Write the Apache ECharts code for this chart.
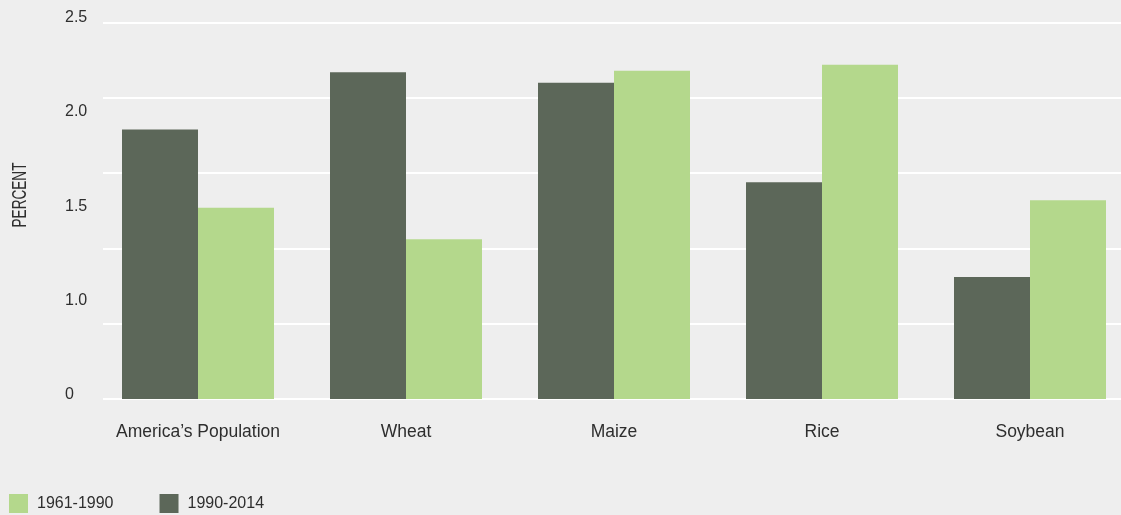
<!DOCTYPE html>
<html><head><meta charset="utf-8">
<script src="https://cdn.jsdelivr.net/npm/echarts@6/dist/echarts.min.js"></script>
<style>html,body{margin:0;padding:0;background:#eeeeee;overflow:hidden;width:1121px;height:515px}#c{width:1134px;height:515px}</style>
</head><body><div id="c"></div>
<script>
const categories = ["America’s Population", "Wheat", "Maize", "Rice", "Soybean"];
const values1990_2014 = [1.79, 2.17, 2.10, 1.44, 0.81];
const values1961_1990 = [1.27, 1.06, 2.18, 2.22, 1.32];
const yTickLabels = ["0", "1.0", "1.5", "2.0", "2.5"];
const seriesNames = ["1961-1990", "1990-2014"];
const yTitle = "PERCENT";

const chart = echarts.init(document.getElementById('c'), null, {renderer: 'canvas'});
const txt = '#2e2e2e';
const font = 'Liberation Sans, Arial, Helvetica, sans-serif';
chart.setOption({
  backgroundColor: '#eeeeee',
  animation: false,
  textStyle: {fontFamily: font},
  grid: [
    {left: 103, right: 13, top: 22.5, bottom: 116},
    {left: 94, right: 0, top: 22.5, bottom: 116},
    {left: 103, right: 13, top: 17.5, bottom: 120}
  ],
  xAxis: [
    {gridIndex: 0, type: 'value', show: false},
    {gridIndex: 1, type: 'category', data: categories,
     axisLine: {show: false}, axisTick: {show: false},
     axisLabel: {interval: 0, hideOverlap: false, margin: 24, fontSize: 17.5, color: txt, fontFamily: font}},
    {gridIndex: 2, type: 'value', show: false}
  ],
  yAxis: [
    {gridIndex: 0, type: 'value', min: 0, max: 2.5, interval: 0.5,
     axisLabel: {show: false}, axisLine: {show: false}, axisTick: {show: false},
     splitLine: {show: true, lineStyle: {color: '#ffffff', width: 2}}},
    {gridIndex: 1, type: 'value', min: 0, max: 2.5, interval: 0.5,
     axisLabel: {show: false}, axisLine: {show: false}, axisTick: {show: false},
     splitLine: {show: false}},
    {gridIndex: 2, type: 'value', min: 0, max: 4, interval: 1,
     axisLine: {show: false}, axisTick: {show: false}, splitLine: {show: false},
     axisLabel: {formatter: v => yTickLabels[v], align: 'left', margin: 38,
                 fontSize: 16, color: txt, fontFamily: font}}
  ],
  legend: {
    data: seriesNames, left: 9, top: 494, padding: 0,
    itemWidth: 19, itemHeight: 19, itemGap: 46,
    icon: 'rect', selectedMode: false,
    textStyle: {fontSize: 16, color: txt, fontFamily: font, padding: [0, 0, 0, 4]}
  },
  graphic: [{
    type: 'text', x: 20, y: 195, rotation: Math.PI / 2, scaleX: 0.68,
    style: {text: yTitle, fontSize: 20, fill: txt, fontFamily: font,
            textAlign: 'center', textVerticalAlign: 'middle'}
  }],
  series: [
    {name: seriesNames[1], type: 'bar', xAxisIndex: 1, yAxisIndex: 1,
     data: values1990_2014, barWidth: 76, barGap: '0%',
     itemStyle: {color: '#5c6759'}},
    {name: seriesNames[0], type: 'bar', xAxisIndex: 1, yAxisIndex: 1,
     data: values1961_1990, barWidth: 76, barGap: '0%',
     itemStyle: {color: '#b4d88c'}}
  ]
});
</script></body></html>
